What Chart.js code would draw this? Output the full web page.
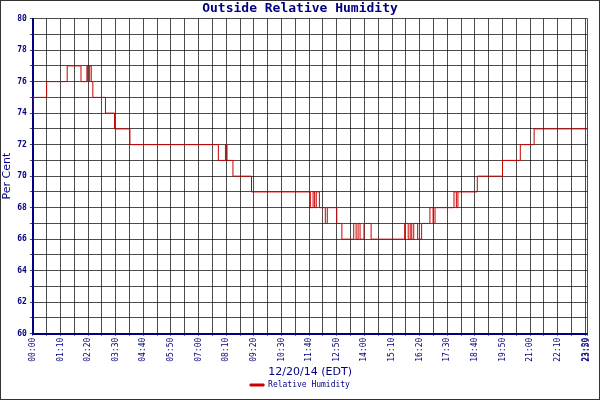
<!DOCTYPE html><html><head><script src="https://cdn.jsdelivr.net/npm/chart.js"></script>
<style>body{margin:0;background:#fff}#w{width:598px;height:398px;border:1px solid #333}</style></head><body><div id="w"><canvas id="c"></canvas></div>
<script>
const times=[0,35,87,122,137,139,144,148,152,184,207,246,470,488,492,507,554,703,710,714,718,726,741,746,751,770,783,813,819,824,829,839,857,942,951,956,960,965,975,985,1006,1014,1019,1067,1073,1077,1126,1190,1235,1270,1405];
const values=[74,75,76,77,76,77,76,77,76,75,74,73,72,71,72,71,70,69,68,69,68,69,68,67,68,68,67,66,67,66,67,66,67,66,67,66,67,66,67,66,67,68,67,68,69,68,69,70,71,72,73];
const yTicks=[60,62,64,66,68,70,72,74,76,78,80];
const xLabels=["00:00","01:10","02:20","03:30","04:40","05:50","07:00","08:10","09:20","10:30","11:40","12:50","14:00","15:10","16:20","17:30","18:40","19:50","21:00","22:10","23:20"];
const navy='#000080';
const pts=times.map((t,i)=>({x:t,y:values[i]}));
new Chart(document.getElementById('c'),{type:'line',data:{datasets:[{label:'Relative Humidity',data:pts,borderColor:'#cc0000',backgroundColor:'#cc0000',borderWidth:1,pointRadius:0,stepped:'after'}]},
options:{animation:false,responsive:true,maintainAspectRatio:false,layout:{padding:{right:0,bottom:0}},
plugins:{title:{display:true,text:'Outside Relative Humidity',color:navy,font:{family:'DejaVu Sans Mono',size:13},padding:{top:0,bottom:2}},
legend:{position:'bottom',labels:{color:navy,font:{family:'DejaVu Sans Mono',size:8},boxWidth:14,boxHeight:2,padding:2}}},
scales:{x:{type:'linear',min:0,max:1405,
afterBuildTicks:s=>{const t=[];for(let i=0;i<=40;i++)t.push({value:i*35});t.push({value:1405});s.ticks=t;},
ticks:{autoSkip:false,maxRotation:90,minRotation:90,color:navy,padding:2,font:{family:'DejaVu Sans Mono',size:8},callback:(v,i)=>{if(v===1405)return '23:59';return i%2===0?xLabels[i/2]:'';}},
grid:{color:'#000',lineWidth:0.7,tickLength:2},border:{color:navy,width:2},
title:{display:true,text:'12/20/14 (EDT)',color:navy,font:{family:'DejaVu Sans',size:11},padding:{top:2,bottom:0}}},
y:{min:60,max:80,afterBuildTicks:s=>{const t=[];for(let v=60;v<=80;v++)t.push({value:v});s.ticks=t;},
ticks:{autoSkip:false,color:navy,font:{family:'DejaVu Sans Mono',size:8,weight:'bold'},callback:v=>yTicks.includes(v)?v:''},
grid:{color:'#000',lineWidth:0.7,tickLength:3},border:{color:navy,width:2},
title:{display:true,text:'Per Cent',color:navy,font:{family:'DejaVu Sans',size:11},padding:0}}}}});
</script></body></html>
